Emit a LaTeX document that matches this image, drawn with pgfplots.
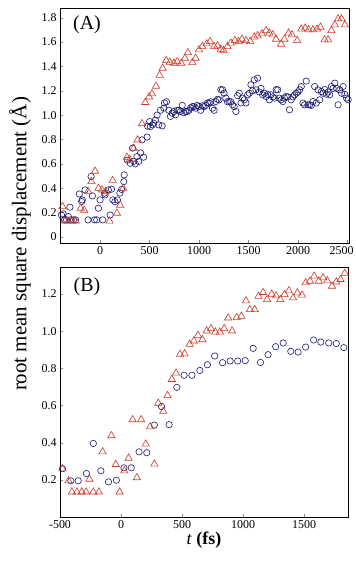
\documentclass[border=0pt]{standalone}
\usepackage{fontspec}
\setmainfont{Liberation Serif}
\usepackage{pgfplots}
\pgfplotsset{compat=1.18}
\definecolor{trired}{RGB}{205,55,35}
\definecolor{circblue}{RGB}{25,25,115}

\pgfplotsset{
  panel/.style={
    scale only axis, anchor=north west,
    axis line style={line width=0.7pt},
    tick align=inside, xtick pos=bottom, ytick pos=left,
    major tick length=3pt,
    tick label style={font=\fontsize{12}{12}\selectfont},
  },
  tri/.style={only marks, mark=triangle, mark size=4.2pt,
    mark options={draw=trired, line width=0.6pt, fill=none}},
  circ/.style={only marks, mark=o, mark size=3.2pt,
    mark options={draw=circblue, line width=0.6pt}},
}

\begin{document}
\begin{tikzpicture}[x=1bp,y=1bp]
\useasboundingbox (0,0) rectangle (355,-566);

% (A)
\begin{axis}[panel, at={(60bp,-8bp)}, width=289bp, height=235bp,
  xmin=-405, xmax=2515, ymin=-0.05, ymax=1.88,
  xtick={0,500,1000,1500,2000,2500},
  xticklabels={0,500,1000,1500,2000,{\makebox[0pt][c]{\hspace*{-12bp}2500}}},
  ytick={0,0.2,0.4,0.6,0.8,1.0,1.2,1.4,1.6,1.8},
  yticklabels={0,0.2,0.4,0.6,0.8,1.0,1.2,1.4,1.6,1.8}]
\addplot[circ] coordinates {
(-390,0.18) (-373,0.19) (-360,0.14) (-339,0.14) (-320,0.167) (-305,0.244)
(-295,0.14) (-270,0.14) (-247,0.14) (-210,0.353) (-186,0.29) (-180,0.304)
(-152,0.386) (-122,0.14) (-91,0.496) (-78,0.337) (-58,0.14) (-34,0.14)
(-17,0.236) (0,0.304) (27,0.14) (44,0.359) (50,0.345) (84,0.386)
(102,0.18) (115,0.392) (129,0.304) (150,0.29) (175,0.304) (200,0.36)
(218,0.39) (240,0.454) (244,0.509) (275,0.63) (305,0.605) (328,0.729)
(339,0.62) (356,0.60) (373,0.66) (390,0.62) (410,0.69) (424,0.797)
(440,0.655) (475,0.82) (480,0.91) (501,0.947) (508,0.906) (530,0.92)
(542,0.934) (559,0.96) (576,1.00) (593,0.92) (610,1.04) (627,0.912)
(644,1.057) (650,1.10) (671,1.11) (694,1.04) (711,0.99) (728,1.016)
(745,1.03) (762,1.003) (779,1.04) (796,1.04) (813,1.03) (830,1.08)
(847,1.02) (864,1.03) (881,1.03) (898,1.04) (915,1.06) (932,1.07)
(948,1.07) (965,1.057) (982,1.08) (999,1.07) (1016,1.04) (1033,1.077)
(1050,1.07) (1067,1.08) (1084,1.10) (1101,1.10) (1118,1.11) (1135,1.057)
(1152,1.04) (1169,1.112) (1186,1.13) (1203,1.126) (1220,1.21) (1237,1.208)
(1253,1.18) (1270,1.14) (1287,1.11) (1304,1.112) (1321,1.11) (1338,1.085)
(1355,1.07) (1372,1.03) (1389,1.16) (1406,1.18) (1423,1.10) (1440,1.14)
(1457,1.126) (1474,1.10) (1491,1.167) (1508,1.18) (1524,1.25) (1541,1.20)
(1558,1.29) (1575,1.208) (1592,1.304) (1609,1.19) (1626,1.22) (1643,1.167)
(1660,1.18) (1677,1.153) (1694,1.17) (1710,1.126) (1728,1.167) (1745,1.15)
(1761,1.14) (1779,1.21) (1795,1.208) (1812,1.14) (1829,1.126) (1846,1.112)
(1863,1.14) (1880,1.153) (1897,1.15) (1914,1.044) (1931,1.126) (1948,1.15)
(1965,1.167) (1982,1.18) (1999,1.19) (2016,1.208) (2033,1.235) (2050,1.10)
(2066,1.085) (2083,1.28) (2100,1.085) (2117,1.085) (2134,1.08) (2151,1.112)
(2168,1.235) (2185,1.10) (2202,1.208) (2219,1.126) (2236,1.194) (2253,1.18)
(2270,1.21) (2287,1.172) (2304,1.19) (2320,1.167) (2337,1.235) (2354,1.22)
(2371,1.263) (2388,1.22) (2405,1.085) (2422,1.208) (2440,1.18) (2456,1.235)
(2473,1.17) (2490,1.14) (2507,1.126)
};
\addplot[tri] coordinates {
(-379,0.25) (-356,0.13) (-320,0.13) (-283,0.13) (-245,0.13) (-196,0.236)
(-160,0.22) (-122,0.375) (-88,0.455) (-51,0.54) (-17,0.40) (20,0.386)
(55,0.372) (95,0.13) (127,0.465) (170,0.195) (203,0.26) (234,0.40)
(271,0.655) (300,0.635) (339,0.729) (379,0.797) (424,0.93) (457,1.105)
(495,1.15) (525,1.175) (566,1.238) (602,1.328) (633,1.386) (668,1.448)
(704,1.435) (745,1.427) (779,1.44) (820,1.427) (857,1.468) (887,1.514)
(932,1.432) (965,1.468) (999,1.537) (1033,1.564) (1077,1.586) (1111,1.605)
(1152,1.564) (1186,1.569) (1220,1.542) (1247,1.531) (1287,1.564) (1321,1.592)
(1362,1.613) (1399,1.605) (1433,1.624) (1474,1.613) (1517,1.605) (1558,1.641)
(1592,1.652) (1636,1.668) (1677,1.695) (1710,1.674) (1745,1.66) (1778,1.624)
(1829,1.583) (1863,1.624) (1904,1.674) (1938,1.66) (1992,1.613) (2033,1.707)
(2073,1.715) (2107,1.701) (2151,1.701) (2192,1.707) (2226,1.723) (2269,1.619)
(2304,1.619) (2337,1.695) (2371,1.742) (2405,1.791) (2439,1.791) (2473,1.742)
};
\end{axis}

% (B)
\begin{axis}[panel, at={(60bp,-267bp)}, width=288bp, height=250bp,
  xmin=-500, xmax=1860, ymin=0, ymax=1.346,
  xtick={-500,0,500,1000,1500}, xticklabels={-500,0,500,1000,1500},
  ytick={0.2,0.4,0.6,0.8,1.0,1.2},
  yticklabels={0.2,0.4,0.6,0.8,1.0,1.2}]
\addplot[circ] coordinates {
(-480,0.26) (-411,0.195) (-351,0.195) (-284,0.234) (-227,0.396) (-165,0.249)
(-103,0.189) (-38,0.198) (24,0.265) (84,0.265) (148,0.351) (211,0.346)
(273,0.495) (332,0.595) (394,0.497) (457,0.698) (517,0.763) (581,0.763)
(646,0.789) (708,0.82) (767,0.867) (832,0.831) (894,0.84) (956,0.84)
(1018,0.842) (1083,0.908) (1143,0.832) (1205,0.874) (1267,0.917) (1329,0.937)
(1391,0.892) (1451,0.888) (1513,0.915) (1578,0.953) (1637,0.942) (1702,0.937)
(1764,0.934) (1826,0.912)
};
\addplot[tri] coordinates {
(-480,0.26) (-430,0.195) (-403,0.135) (-362,0.135) (-322,0.135) (-286,0.135)
(-259,0.204) (-227,0.135) (-181,0.135) (-151,0.351) (-79,0.438) (-43,0.283)
(-11,0.135) (27,0.249) (62,0.317) (95,0.524) (130,0.212) (165,0.524)
(203,0.393) (238,0.486) (273,0.285) (305,0.613) (346,0.569) (381,0.654)
(416,0.741) (451,0.775) (484,0.876) (521,0.879) (562,0.93) (597,0.948)
(630,0.978) (667,0.955) (702,1.002) (737,1.014) (773,0.996) (810,0.996)
(846,1.014) (878,1.072) (910,1.002) (948,1.074) (986,1.081) (1024,1.164)
(1056,1.117) (1096,1.117) (1126,1.188) (1164,1.209) (1197,1.171) (1234,1.20)
(1270,1.191) (1305,1.171) (1340,1.198) (1375,1.218) (1410,1.18) (1445,1.207)
(1483,1.195) (1513,1.261) (1548,1.27) (1583,1.297) (1621,1.27) (1656,1.288)
(1691,1.272) (1729,1.243) (1764,1.266) (1799,1.279) (1834,1.312)
};
\end{axis}

\node[font=\fontsize{20}{20}\selectfont] at (87,-25) {(A)};
\node[font=\fontsize{20}{20}\selectfont] at (87,-287) {(B)};
\node[rotate=90, font=\fontsize{21}{21}\selectfont] at (20,-244) {root mean square displacement (Å)};
\node[font=\fontsize{18}{18}\selectfont] at (204,-540) {\textit{t} \textbf{(fs)}};
\end{tikzpicture}
\end{document}
